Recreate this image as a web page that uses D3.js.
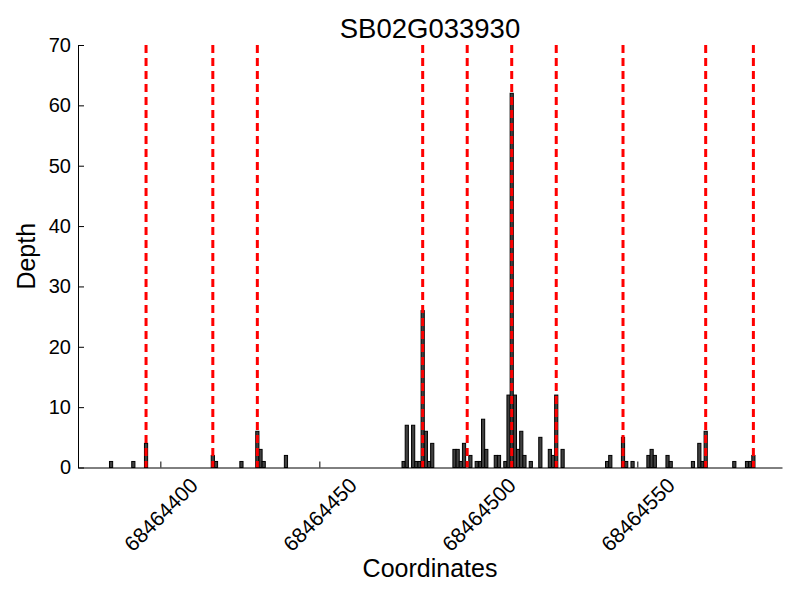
<!DOCTYPE html>
<html>
<head>
<meta charset="utf-8">
<script src="https://cdn.jsdelivr.net/npm/d3@7"></script>
<style>
  body { margin: 0; background: #fff; }
  text { font-family: "Liberation Sans", Arial, sans-serif; }
</style>
</head>
<body>
<svg id="chart" width="800" height="600"></svg>
<script>
const title = "SB02G033930";

// coverage positions and depth at each one
const positions = [
  68464384, 68464391, 68464395, 68464416, 68464417, 68464425, 68464430, 68464431, 68464432, 68464439,
  68464476, 68464477, 68464479, 68464480, 68464481, 68464482, 68464483, 68464484, 68464485,
  68464492, 68464493, 68464494, 68464495, 68464497, 68464499, 68464500, 68464501, 68464502,
  68464505, 68464506, 68464508, 68464509, 68464510, 68464511, 68464512, 68464513, 68464514,
  68464516, 68464519, 68464522, 68464523, 68464524, 68464526,
  68464540, 68464541, 68464545, 68464546, 68464548, 68464553, 68464554, 68464555, 68464559, 68464560,
  68464567, 68464569, 68464570, 68464571, 68464580, 68464584, 68464585, 68464586
];
const depths = [
  1, 1, 4, 2, 1, 1, 6, 3, 1, 2,
  1, 7, 7, 1, 1, 26, 6, 1, 4,
  3, 3, 1, 4, 2, 1, 1, 8, 3,
  2, 2, 1, 12, 62, 12, 3, 6, 2,
  1, 5, 3, 2, 12, 3,
  1, 2, 5, 1, 1, 2, 3, 2, 2, 1,
  1, 4, 1, 6, 1, 1, 1, 2
];

// red dashed markers
const markers = [
  68464395, 68464416, 68464430, 68464482, 68464496,
  68464510, 68464524, 68464545, 68464571, 68464586
];

const xTicks = [68464400, 68464450, 68464500, 68464550];
const yTicks = [0, 10, 20, 30, 40, 50, 60, 70];

const svg = d3.select("#chart");
const mLeft = 78, mRight = 782, mTop = 45, mBottom = 467.5;

const x = d3.scaleLinear().domain([68464374.1, 68464595.5]).range([mLeft, mRight]);
const y = d3.scaleLinear().domain([0, 70]).range([mBottom, mTop]);

const bars = positions.map((p, i) => ({ p: p, d: depths[i] }));

svg.append("g")
  .selectAll("rect")
  .data(bars)
  .enter()
  .append("rect")
  .attr("x", d => x(d.p))
  .attr("width", d => x(d.p + 1) - x(d.p))
  .attr("y", d => y(d.d))
  .attr("height", d => y(0) - y(d.d))
  .attr("fill", "#404040")
  .attr("stroke", "#000")
  .attr("stroke-width", 1);

svg.append("g")
  .selectAll("line")
  .data(markers)
  .enter()
  .append("line")
  .attr("x1", d => x(d + 0.5))
  .attr("x2", d => x(d + 0.5))
  .attr("y1", mTop)
  .attr("y2", mBottom)
  .attr("stroke", "#ff0000")
  .attr("stroke-width", 3)
  .attr("stroke-dasharray", "8,5");

// axes: only left and bottom, ticks pointing inward
const xAxis = svg.append("g")
  .attr("transform", `translate(0,${mBottom})`)
  .call(d3.axisBottom(x).tickValues(xTicks).tickSizeInner(-6).tickSizeOuter(0).tickFormat(d3.format("d")));
xAxis.select(".domain").attr("stroke", "#000");
xAxis.selectAll(".tick text")
  .attr("font-size", 21)
  .attr("text-anchor", "middle")
  .attr("dominant-baseline", "central")
  .attr("y", 0)
  .attr("dy", null)
  .attr("transform", "translate(0,47) rotate(-45)");

const yAxis = svg.append("g")
  .attr("transform", `translate(${mLeft},0)`)
  .call(d3.axisLeft(y).tickValues(yTicks).tickSizeInner(-6).tickSizeOuter(0));
yAxis.select(".domain").attr("stroke", "#000");
yAxis.selectAll(".tick text")
  .attr("font-size", 20)
  .attr("x", -7);

svg.append("text")
  .attr("x", (mLeft + mRight) / 2)
  .attr("y", 38)
  .attr("text-anchor", "middle")
  .attr("font-size", 27.5)
  .text(title);

svg.append("text")
  .attr("x", (mLeft + mRight) / 2)
  .attr("y", 577)
  .attr("text-anchor", "middle")
  .attr("font-size", 25)
  .text("Coordinates");

svg.append("text")
  .attr("transform", `translate(35,${(mTop + mBottom) / 2}) rotate(-90)`)
  .attr("text-anchor", "middle")
  .attr("font-size", 25)
  .text("Depth");
</script>
</body>
</html>
